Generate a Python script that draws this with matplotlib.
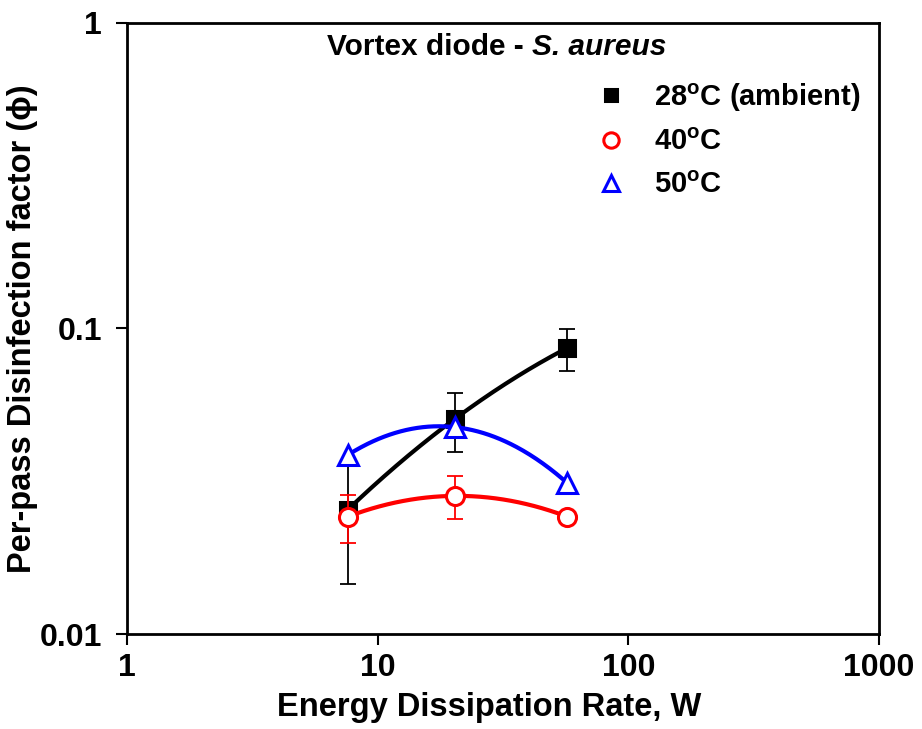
import numpy as np
import matplotlib
matplotlib.use("Agg")
import matplotlib.pyplot as plt

plt.rcParams['font.family'] = ['Liberation Sans', 'DejaVu Sans']
plt.rcParams['font.weight'] = 'bold'
plt.rcParams['mathtext.fontset'] = 'custom'
plt.rcParams['mathtext.rm'] = 'Liberation Sans:bold'
plt.rcParams['mathtext.bf'] = 'Liberation Sans:bold'
plt.rcParams['mathtext.it'] = 'Liberation Sans:bold:italic'

# Data
energy = [7.6, 20.3, 57.0]
phi_28 = [0.0255, 0.0505, 0.0862]
err_28 = [0.0109, 0.0110, 0.0135]
phi_40 = [0.0242, 0.0283, 0.0242]
err_40 = [0.0043, 0.0045, 0.0]
phi_50 = [0.0385, 0.0475, 0.0312]

labels = ['28$^\\mathbf{o}$C (ambient)', '40$^\\mathbf{o}$C', '50$^\\mathbf{o}$C']
x_ticks = [1, 10, 100, 1000]
x_ticklabels = ['1', '10', '100', '1000']
y_ticks = [0.01, 0.1, 1]
y_ticklabels = ['0.01', '0.1', '1']

fig = plt.figure(figsize=(9.22, 7.29), dpi=100)
ax = fig.add_axes([0.1377, 0.1303, 0.8157, 0.8388])


def smooth(x, y):
    lx, ly = np.log10(x), np.log10(y)
    c = np.polyfit(lx, ly, 2)
    xs = np.linspace(lx[0], lx[-1], 200)
    return 10 ** xs, 10 ** np.polyval(c, xs)


def series(y, err, color, marker, mfc, label, ms, z):
    xs, ys = smooth(energy, y)
    ax.plot(xs, ys, color=color, lw=3, zorder=z, solid_capstyle='round')
    if err is not None:
        ax.errorbar(energy, y, yerr=err, fmt='none', ecolor=color, elinewidth=1.3,
                    capsize=6, capthick=1.3, zorder=z)
    ax.plot(energy, y, linestyle='none', marker=marker, markersize=ms,
            markerfacecolor=mfc, markeredgecolor=color, markeredgewidth=2.2,
            zorder=z + 0.5, label=label)


series(phi_28, err_28, 'black', 's', 'black', labels[0], 11, 2)
series(phi_50, None, '#0000ff', '^', 'white', labels[2], 14, 3)
series(phi_40, err_40, '#ff0000', 'o', 'white', labels[1], 13, 4)

ax.set_xscale('log')
ax.set_yscale('log')
ax.set_xlim(1, 1000)
ax.set_ylim(0.01, 1)
ax.set_xticks(x_ticks)
ax.set_xticklabels(x_ticklabels)
ax.set_yticks(y_ticks)
ax.set_yticklabels(y_ticklabels)
ax.minorticks_off()
ax.tick_params(axis='both', direction='out', length=8, width=1.5, labelsize=23)
ax.tick_params(axis='y', pad=10)
ax.tick_params(axis='x', pad=6)
for s in ax.spines.values():
    s.set_linewidth(2)

ax.set_xlabel('Energy Dissipation Rate, W', fontsize=23.5, fontweight='bold', labelpad=6)
ax.xaxis.label.set_x(0.482)
ax.set_ylabel('Per-pass Disinfection factor (\u03d5)', fontsize=23.5, fontweight='bold', labelpad=1)

# Title: normal part + italic species name
t1 = ax.text(0.0, 0.96, 'Vortex diode - ', transform=ax.transAxes,
             ha='left', va='center', fontsize=21.5, fontweight='bold')
t2 = ax.text(0.0, 0.96, 'S. aureus', transform=ax.transAxes,
             ha='left', va='center', fontsize=21.5, fontweight='bold', fontstyle='italic')
fig.canvas.draw()
r = fig.canvas.get_renderer()
w1 = t1.get_window_extent(r).width
w2 = t2.get_window_extent(r).width
axbb = ax.get_window_extent(r)
cx = 497.0
start = (cx - (w1 + w2) / 2 - axbb.x0) / axbb.width
t1.set_x(start)
t2.set_x(start + w1 / axbb.width)

h, l = ax.get_legend_handles_labels()
order = [0, 2, 1]
ax.legend([h[i] for i in order], [l[i] for i in order], loc='upper left',
          bbox_to_anchor=(0.58, 0.947), frameon=False, fontsize=21,
          handlelength=1.5, handletextpad=0.7, labelspacing=0.5, markerscale=0.85)

fig.savefig('out.png', dpi=100)
